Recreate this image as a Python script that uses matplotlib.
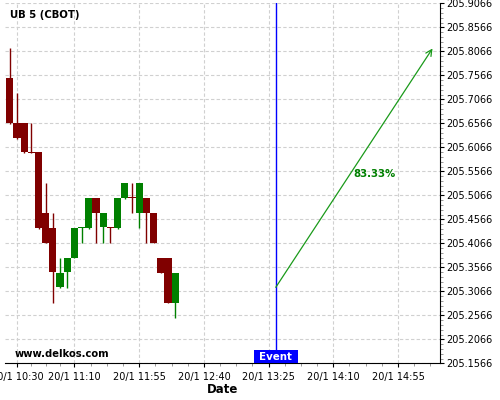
import numpy as np
import matplotlib
matplotlib.use('Agg')
import matplotlib.pyplot as plt
from matplotlib.patches import Rectangle
from matplotlib.ticker import AutoMinorLocator, FixedLocator
import matplotlib.transforms as mtransforms

plt.rcParams['font.family'] = 'DejaVu Sans'
plt.rcParams['font.size'] = 7

title = "UB 5 (CBOT)"
times = ["10:25", "10:30", "10:35", "10:40", "10:45", "10:50", "10:55", "11:00",
         "11:05", "11:10", "11:15", "11:20", "11:25", "11:30", "11:35", "11:40",
         "11:45", "11:50", "11:55", "12:00", "12:05", "12:10", "12:15", "12:20"]
opens = [205.7516, 205.6566, 205.6566, 205.5970, 205.5966, 205.4697, 205.4385, 205.3149,
         205.3462, 205.3770, 205.4392, 205.4385, 205.5010, 205.4399, 205.4402, 205.4385,
         205.5010, 205.5028, 205.4704, 205.5010, 205.4704, 205.3760, 205.3760, 205.2829]
highs = [205.8135, 205.7203, 205.6566, 205.6566, 205.5966, 205.5322, 205.4697, 205.3753,
         205.3760, 205.4385, 205.4400, 205.5010, 205.5010, 205.4704, 205.4402, 205.5010,
         205.5322, 205.5322, 205.5322, 205.5010, 205.4704, 205.3760, 205.3760, 205.3447]
lows = [205.6560, 205.6245, 205.5940, 205.5940, 205.4370, 205.4078, 205.2816, 205.3130,
        205.3130, 205.3760, 205.4066, 205.4370, 205.4072, 205.4072, 205.4072, 205.4370,
        205.4990, 205.4691, 205.4378, 205.4072, 205.4078, 205.3440, 205.2829, 205.2516]
closes = [205.6566, 205.6266, 205.5966, 205.5962, 205.4391, 205.4078, 205.3462, 205.3447,
          205.3760, 205.4385, 205.4400, 205.5010, 205.4704, 205.4704, 205.4396, 205.5010,
          205.5322, 205.5022, 205.5322, 205.4704, 205.4078, 205.3454, 205.2829, 205.3447]

tick_labels = ["10:30", "11:10", "11:55", "12:40", "13:25", "14:10", "14:55"]
event_time = "13:30"
target_time, target_price = "15:19", 205.8125
start_price = 205.3149
pct_text = "83.33%"


def to_min(s):
    h, m = s.split(":")
    return int(h) * 60 + int(m)


x = np.array([to_min(t) for t in times])
o = np.array(opens)
c = np.array(closes)
h = np.array(highs)
l = np.array(lows)

red = '#800000'
green = '#008000'
cols = np.where(c >= o, green, red)
body = c - o
body = np.where(np.abs(body) < 0.0015, np.where(body >= 0, 0.0015, -0.0015), body)

fig = plt.figure(figsize=(5, 4), dpi=100)
ax = fig.add_axes([0.01, 0.09175, 0.87, 0.9])

ax.vlines(x, l, h, colors=cols, lw=1, zorder=2)
ax.bar(x, body, bottom=o, width=5, color=cols, linewidth=0, zorder=3)

ev = to_min(event_time)
ax.axvline(ev, color='#0000ff', lw=1, zorder=4)

ax.annotate('', xy=(to_min(target_time), target_price), xytext=(ev, start_price),
            arrowprops=dict(arrowstyle='->', color='#1a9a1a', lw=0.9, mutation_scale=11,
                            shrinkA=0, shrinkB=0), zorder=5)
ax.text(864.0, 205.551, pct_text, color=green, fontweight='bold', fontsize=7.3,
        ha='left', va='center', zorder=5)

# event label
trans = mtransforms.blended_transform_factory(ax.transData, ax.transAxes)
ax.add_patch(Rectangle((ev - 15.3, 0), 30.6, 0.037, transform=trans, fc='#0000ff',
                       ec='none', zorder=6, clip_on=False))
ax.text(ev, 0.0185, 'Event', transform=trans, color='white', fontweight='bold',
        fontsize=7.4, ha='center', va='center', zorder=7)

ax.set_xlim(621.7, 924.2)
ax.set_ylim(205.1566, 205.9066)

maj = np.array([to_min(t) for t in tick_labels])
ax.set_xticks(maj)
ax.set_xticklabels(["20/1 " + t for t in tick_labels])
minors = []
for a, b in zip(maj[:-1], maj[1:]):
    minors += list(np.linspace(a, b, 5)[1:-1])
step = (maj[-1] - maj[-2]) / 4
minors += [maj[-1] + step * k for k in range(1, 4)]
ax.xaxis.set_minor_locator(FixedLocator(minors))

ax.set_yticks(np.arange(205.1566, 205.9067, 0.05))
ax.yaxis.set_major_formatter(plt.FormatStrFormatter('%.4f'))
ax.yaxis.set_minor_locator(AutoMinorLocator(5))
ax.yaxis.tick_right()

ax.spines['left'].set_visible(False)
ax.spines['top'].set_visible(False)
ax.tick_params(axis='both', which='major', length=3, width=0.8, labelsize=7)
ax.tick_params(axis='both', which='minor', length=2, width=0.6, color='#888888')
ax.tick_params(axis='y', which='major', pad=1.5)
ax.tick_params(axis='x', which='major', pad=3)

ax.grid(True, which='major', color='#d0d0d0', linestyle=(0, (3, 2)), lw=0.8)
ax.set_axisbelow(True)

ax.set_xlabel('Date', fontweight='bold', fontsize=8.5, labelpad=1)

fig.text(10 / 500, 1 - 15.5 / 400, title, fontweight='bold', fontsize=7.3, va='center')
fig.text(15 / 500, 1 - 354 / 400, 'www.delkos.com', fontweight='bold', fontsize=7.2,
         va='center')

fig.savefig('out.png', dpi=100)
